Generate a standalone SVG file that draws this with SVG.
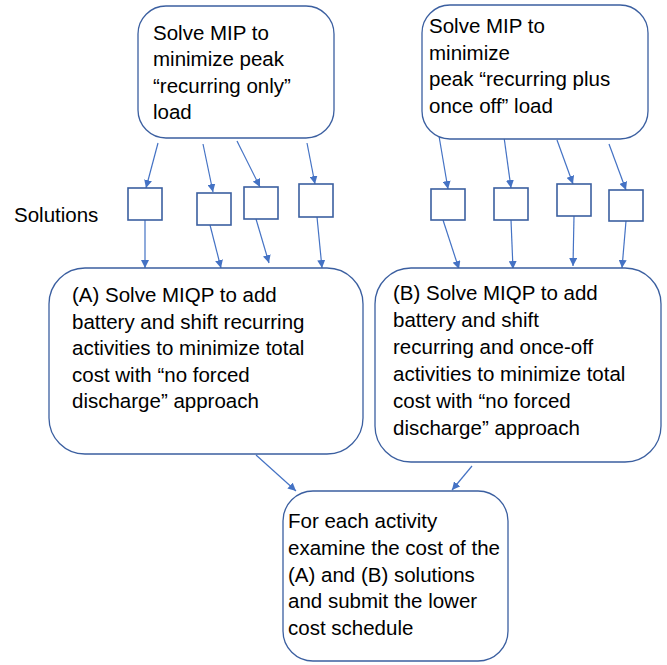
<svg xmlns="http://www.w3.org/2000/svg" width="667" height="665" viewBox="0 0 667 665">
<style>
.box{fill:#fff;stroke:#3B5FA0;stroke-width:1.3}
.sol{fill:#fff;stroke:#3B5FA0;stroke-width:1.6}
.t{font-family:"Liberation Sans",Arial,sans-serif;font-size:20.5px;fill:#000}
.c{stroke:#4472C4;stroke-width:1.2;fill:none;marker-end:url(#ah)}
</style>
<defs>
<marker id="ah" viewBox="0 0 10 10" refX="10" refY="5" markerWidth="8" markerHeight="8" markerUnits="userSpaceOnUse" orient="auto">
<path d="M0,0 L10,5 L0,10 z" fill="#4472C4"/>
</marker>
</defs>
<rect width="667" height="665" fill="#fff"/>
<g id="connectors">
<line class="c" x1="158" y1="143" x2="146" y2="188"/>
<line class="c" x1="203" y1="144" x2="213" y2="192"/>
<line class="c" x1="237" y1="141" x2="260" y2="187"/>
<line class="c" x1="307" y1="143" x2="315" y2="184"/>
<line class="c" x1="145" y1="220" x2="145" y2="268"/>
<line class="c" x1="210" y1="225" x2="221" y2="268"/>
<line class="c" x1="256" y1="219" x2="269" y2="263"/>
<line class="c" x1="317" y1="217" x2="322" y2="268"/>
<line class="c" x1="439" y1="136" x2="448" y2="189"/>
<line class="c" x1="504" y1="137" x2="511" y2="188"/>
<line class="c" x1="557" y1="140" x2="573" y2="184"/>
<line class="c" x1="609" y1="144" x2="626" y2="190"/>
<line class="c" x1="443" y1="220" x2="459" y2="269"/>
<line class="c" x1="511" y1="220" x2="513" y2="269"/>
<line class="c" x1="574" y1="216" x2="573" y2="266"/>
<line class="c" x1="626" y1="221" x2="622" y2="268"/>
<line class="c" x1="256" y1="455" x2="296" y2="491"/>
<line class="c" x1="472" y1="466" x2="452" y2="490"/>
</g>
<g id="mip1">
<rect class="box" x="138" y="6" width="196" height="132" rx="28"/>
<text class="t" x="153" y="39.5">Solve MIP to</text>
<text class="t" x="153" y="66">minimize peak</text>
<text class="t" x="153" y="92.5">“recurring only”</text>
<text class="t" x="153" y="119">load</text>
</g>
<g id="mip2">
<rect class="box" x="422" y="5" width="226" height="134" rx="28"/>
<text class="t" x="429" y="33">Solve MIP to</text>
<text class="t" x="429" y="59.5">minimize</text>
<text class="t" x="429" y="86">peak “recurring plus</text>
<text class="t" x="429" y="112.5">once off” load</text>
</g>
<g id="solutions-label">
<text class="t" x="14" y="222">Solutions</text>
</g>
<g id="sol1"><rect class="sol" x="128" y="188" width="34" height="32"/></g>
<g id="sol2"><rect class="sol" x="197" y="193" width="34" height="32"/></g>
<g id="sol3"><rect class="sol" x="244" y="187" width="34" height="32"/></g>
<g id="sol4"><rect class="sol" x="299" y="184" width="34" height="33"/></g>
<g id="sol5"><rect class="sol" x="431" y="189" width="34" height="31"/></g>
<g id="sol6"><rect class="sol" x="494" y="188" width="34" height="32"/></g>
<g id="sol7"><rect class="sol" x="557" y="184" width="34" height="32"/></g>
<g id="sol8"><rect class="sol" x="609" y="190" width="34" height="31"/></g>
<g id="miqpA">
<rect class="box" x="49" y="268" width="314" height="186" rx="36"/>
<text class="t" x="72" y="302">(A) Solve MIQP to add</text>
<text class="t" x="72" y="328.5">battery and shift recurring</text>
<text class="t" x="72" y="355">activities to minimize total</text>
<text class="t" x="72" y="381.5">cost with “no forced</text>
<text class="t" x="72" y="408">discharge” approach</text>
</g>
<g id="miqpB">
<rect class="box" x="375" y="268" width="286" height="194" rx="36"/>
<text class="t" x="393" y="300">(B) Solve MIQP to add</text>
<text class="t" x="393" y="327">battery and shift</text>
<text class="t" x="393" y="354">recurring and once-off</text>
<text class="t" x="393" y="381">activities to minimize total</text>
<text class="t" x="393" y="408">cost with “no forced</text>
<text class="t" x="393" y="435">discharge” approach</text>
</g>
<g id="compare">
<rect class="box" x="283" y="491" width="225" height="170" rx="30"/>
<text class="t" x="288" y="528">For each activity</text>
<text class="t" x="288" y="555">examine the cost of the</text>
<text class="t" x="288" y="582">(A) and (B) solutions</text>
<text class="t" x="288" y="608">and submit the lower</text>
<text class="t" x="288" y="635">cost schedule</text>
</g>
</svg>
